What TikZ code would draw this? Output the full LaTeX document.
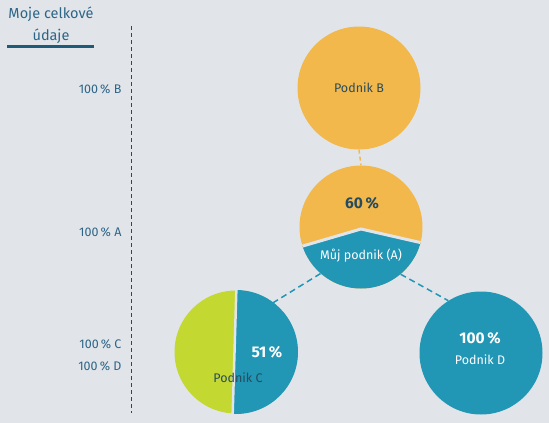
\documentclass[tikz,border=0pt]{standalone}
\usepackage{fontspec}
\setmainfont{Fira Sans}
\usepackage{xcolor}
\usepackage{tikz}
\usetikzlibrary{positioning}
\definecolor{C0}{HTML}{2196B5}
\definecolor{C1}{HTML}{F2B84C}
\definecolor{C2}{HTML}{C3D831}
\definecolor{C7}{HTML}{264B5E}
\definecolor{C8}{HTML}{2E6587}
\definecolor{C9}{HTML}{1D5B79}
\definecolor{CB}{HTML}{E1E5EA}
\tikzset{
  firma/.style={circle, minimum size=123pt, inner sep=0pt, text=C7},
  podil/.style={font=\fontsize{15.5}{18}\selectfont\bfseries},
  procenta/.style={anchor=east, text=C8, font=\fontsize{12.5}{14}\selectfont},
  vazba/.style={line width=1.5pt, dash pattern=on 6pt off 4pt},
}

\begin{document}
\begin{tikzpicture}[x=1pt, y=-1pt, font=\fontsize{12.5}{15}\selectfont]
\fill[CB] (0,0) rectangle (549,423);
\useasboundingbox (0,0) rectangle (549,423);
\node[text=C8, font=\fontsize{14.5}{16}\selectfont] (titel1) at (51,14) {Moje celkové};
\node[text=C8, font=\fontsize{14.5}{16}\selectfont] (titel2) at (51,36) {údaje};
\draw[C9, line width=3pt] (7,46) -- (94,46);
\draw[C7, line width=0.8pt, dash pattern=on 4pt off 3pt] (131,26) -- (131,413);
\node[procenta] (lblB) at (125,89) {100\,\% B};
\node[procenta] (lblA) at (125,232) {100\,\% A};
\node[procenta] (lblC) at (125,344) {100\,\% C};
\node[procenta] (lblD) at (125,366) {100\,\% D};
% kruhy
\node[firma, fill=C1] (B) at (359,88) {Podnik B};
\node[firma, fill=C1] (A) at (361,227) {};
\node[firma, fill=C2] (C) at (236,352) {};
\node[firma, fill=C0] (D) at (481,353) {};
\begin{scope}
\clip (A.center) circle[radius=61.5pt];
\fill[C0] (295,248.3) -- (361,229) -- (428,244.3) -- (428,300) -- (295,300) -- cycle;
\draw[CB, line width=3pt] (295,248.3) -- (361,229) -- (428,244.3);
\end{scope}
\begin{scope}
\clip (C.center) circle[radius=62pt];
\fill[C0] (236.5,285) -- (232.5,420) -- (305,420) -- (305,285) -- cycle;
\draw[CB, line width=2.5pt] (236.5,285) -- (232.5,420);
\end{scope}
% vazby
\draw[C1, vazba, dash pattern=on 4pt off 3pt] (B.south) -- (A.north);
\draw[C0, vazba] (A.-131) -- (C.53);
\draw[C0, vazba] (A.-50) -- (D.122);
% texty
\node[podil, text=C7] (p60) at (362,203) {60\,\%};
\node[text=white] (txtA) at (361,256) {Můj podnik (A)};
\node[podil, text=white] (p51) at (267,352) {51\,\%};
\node[text=C7] (txtC) at (238,378) {Podnik C};
\node[podil, text=white] (p100) at (480,338) {100\,\%};
\node[text=white] (txtD) at (480,360) {Podnik D};
\end{tikzpicture}
\end{document}
